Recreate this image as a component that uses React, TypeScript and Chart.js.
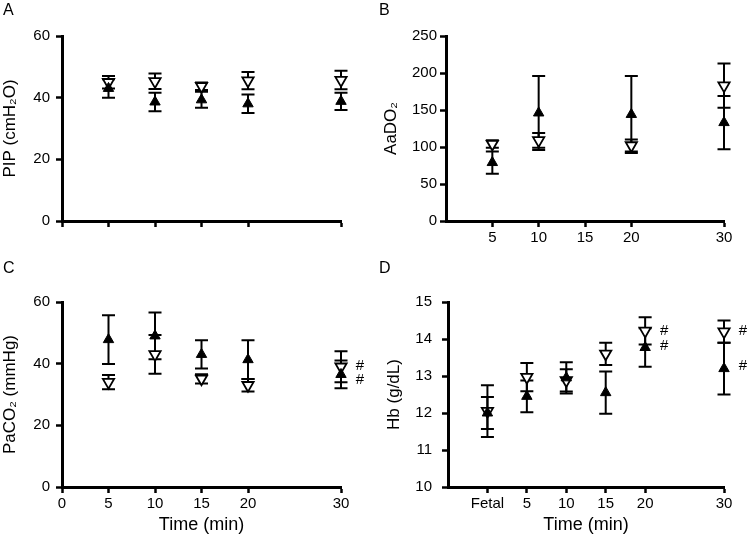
import React, { useEffect, useRef } from 'react';
import { Chart, registerables } from 'chart.js';
Chart.register(...registerables);

const FONT = "'Liberation Sans', Arial, Helvetica, sans-serif";

// Panel A: PIP (cmH2O)
const timesA = [5, 10, 15, 20, 30];
const pipFilled = [43, 38.6, 39.3, 38, 38.8];
const pipFilledSd = [3, 3, 2.6, 3, 2.8];
const pipOpen = [45, 45.3, 43.7, 45.5, 45.7];
const pipOpenSd = [2, 2.5, 1.2, 2.8, 3];

// Panel B: AaDO2
const timesB = [5, 10, 20, 30];
const aaFilled = [79, 146, 144, 133];
const aaFilledSd = [15, 50, 52, 36];
const aaOpen = [104, 109, 102, 183];
const aaOpenSd = [5, 10, 8, 30];

// Panel C: PaCO2 (mmHg)
const timesC = [5, 10, 15, 20, 30];
const coFilled = [47.8, 49, 43, 41.3, 36.5];
const coFilledSd = [7.9, 7.6, 4.6, 6.3, 4.5];
const coOpen = [34, 43, 35.1, 33, 39];
const coOpenSd = [2.3, 6.3, 1.5, 2, 5];
const hashCx = [30, 30];
const hashCy = [39.4, 34.6];

// Panel D: Hb (g/dL)
const timesD = [0, 5, 10, 15, 20, 30];
const hbFilled = [12.0, 12.45, 12.95, 12.55, 13.77, 13.2];
const hbFilledSd = [0.43, 0.43, 0.42, 0.57, 0.52, 0.7];
const hbOpen = [12.05, 12.97, 12.88, 13.6, 14.22, 14.2];
const hbOpenSd = [0.7, 0.38, 0.3, 0.3, 0.37, 0.3];
const hashDx = [20, 20, 30, 30];
const hashDy = [14.22, 13.82, 14.22, 13.28];

const ticksAC = [0, 5, 10, 15, 20, 30];
const ticksB = [5, 10, 15, 20, 30];
const ticksD = [0, 5, 10, 15, 20, 30];

type PanelProps = {
  xs: number[];
  filled: number[];
  filledSd: number[];
  open: number[];
  openSd: number[];
  xMin: number;
  xMax: number;
  xTicks: number[];
  xLabels: boolean;
  fetal?: boolean;
  yMin: number;
  yMax: number;
  yStep: number;
  yTitle: string;
  xTitle?: string;
  hashX?: number[];
  hashY?: number[];
  left: number;
  top: number;
  right: number;
  bottomH: number;
  yTitlePad: number;
  yTickPad: number;
};

function Panel(p: PanelProps) {
  const ref = useRef<HTMLCanvasElement | null>(null);
  useEffect(() => {
    if (!ref.current) return;
    const sets = [
      { vals: p.filled, sds: p.filledSd },
      { vals: p.open, sds: p.openSd },
    ];
    const errPlugin = {
      id: 'errbars',
      beforeDatasetsDraw(chart: any) {
        const ctx = chart.ctx;
        const xs = chart.scales.x;
        const ys = chart.scales.y;
        ctx.save();
        ctx.strokeStyle = '#000';
        ctx.lineWidth = 2;
        sets.forEach((s) => {
          s.vals.forEach((v, i) => {
            const px = xs.getPixelForValue(p.xs[i]);
            const yt = ys.getPixelForValue(v + s.sds[i]);
            const yb = ys.getPixelForValue(v - s.sds[i]);
            ctx.beginPath();
            ctx.moveTo(px, yt);
            ctx.lineTo(px, yb);
            ctx.moveTo(px - 6.5, yt);
            ctx.lineTo(px + 6.5, yt);
            ctx.moveTo(px - 6.5, yb);
            ctx.lineTo(px + 6.5, yb);
            ctx.stroke();
          });
        });
        ctx.restore();
      },
      afterDatasetsDraw(chart: any) {
        if (!p.hashX || !p.hashY) return;
        const ctx = chart.ctx;
        const xs = chart.scales.x;
        const ys = chart.scales.y;
        ctx.save();
        ctx.fillStyle = '#000';
        ctx.font = `15px ${FONT}`;
        ctx.textAlign = 'center';
        ctx.textBaseline = 'middle';
        p.hashX.forEach((hx, i) => {
          ctx.fillText('#', xs.getPixelForValue(hx) + 19, ys.getPixelForValue(p.hashY![i]));
        });
        ctx.restore();
      },
    };
    const chart = new Chart(ref.current, {
      type: 'scatter',
      data: {
        datasets: [
          {
            data: p.xs.map((x, i) => ({ x, y: p.filled[i] })),
            pointStyle: 'triangle',
            pointRadius: 6,
            pointRotation: 0,
            backgroundColor: '#000',
            borderColor: '#000',
            borderWidth: 1,
            clip: false,
          },
          {
            data: p.xs.map((x, i) => ({ x, y: p.open[i] })),
            pointStyle: 'triangle',
            pointRadius: 6.5,
            pointRotation: 180,
            backgroundColor: '#fff',
            borderColor: '#000',
            borderWidth: 1.8,
            clip: false,
          },
        ],
      },
      options: {
        responsive: false,
        animation: false,
        events: [],
        layout: { padding: { left: 0, top: p.top, right: p.right, bottom: 0 } },
        plugins: { legend: { display: false }, tooltip: { enabled: false } },
        scales: {
          x: {
            type: 'linear',
            min: p.xMin,
            max: p.xMax,
            afterBuildTicks: (s: any) => {
              s.ticks = p.xTicks.map((v) => ({ value: v }));
            },
            afterFit: (s: any) => {
              s.height = p.bottomH;
            },
            grid: { drawOnChartArea: false, drawTicks: true, tickLength: 6, tickWidth: 2.5, tickColor: '#000' },
            border: { display: true, color: '#000', width: 3 },
            ticks: {
              display: p.xLabels,
              color: '#000',
              padding: 2,
              maxRotation: 0,
              autoSkip: false,
              font: { family: FONT, size: 15 },
              callback: (v: any) => (p.fetal && Number(v) === 0 ? 'Fetal' : String(v)),
            },
            title: {
              display: !!p.xTitle,
              text: p.xTitle || '',
              color: '#000',
              font: { family: FONT, size: 18 },
              padding: { top: 0, bottom: 2 },
            },
          },
          y: {
            type: 'linear',
            min: p.yMin,
            max: p.yMax,
            afterFit: (s: any) => {
              s.width = p.left;
            },
            grid: { drawOnChartArea: false, drawTicks: true, tickLength: 6, tickWidth: 2.5, tickColor: '#000' },
            border: { display: true, color: '#000', width: 3 },
            ticks: {
              stepSize: p.yStep,
              color: '#000',
              padding: p.yTickPad,
              font: { family: FONT, size: 15 },
            },
            title: {
              display: true,
              text: p.yTitle,
              color: '#000',
              font: { family: FONT, size: 17 },
              padding: { top: p.yTitlePad, bottom: 0 },
            },
          },
        },
      },
      plugins: [errPlugin],
    } as any);
    return () => chart.destroy();
  }, []);
  return <canvas ref={ref} width={376} height={269} style={{ display: 'block', width: 376, height: 269 }} />;
}

const letterStyle = (left: number, top: number): React.CSSProperties => ({
  position: 'absolute',
  left,
  top,
  font: `16px ${FONT}`,
  color: '#000',
});

export default function App() {
  return (
    <div style={{ position: 'absolute', left: 0, top: 0, width: 752, height: 538, background: '#fff' }}>
      <div style={{ position: 'absolute', left: 0, top: 0 }}>
        <Panel xs={timesA} filled={pipFilled} filledSd={pipFilledSd} open={pipOpen} openSd={pipOpenSd}
          xMin={0} xMax={30} xTicks={ticksAC} xLabels={false}
          yMin={0} yMax={60} yStep={20} yTitle="PIP (cmH₂O)"
          left={62} top={36} right={35} bottomH={48} yTitlePad={0} yTickPad={6} />
      </div>
      <div style={{ position: 'absolute', left: 376, top: 0 }}>
        <Panel xs={timesB} filled={aaFilled} filledSd={aaFilledSd} open={aaOpen} openSd={aaOpenSd}
          xMin={0} xMax={30} xTicks={ticksB} xLabels={true}
          yMin={0} yMax={250} yStep={50} yTitle="AaDO₂"
          left={70} top={36} right={28} bottomH={48} yTitlePad={5} yTickPad={3} />
      </div>
      <div style={{ position: 'absolute', left: 0, top: 269 }}>
        <Panel xs={timesC} filled={coFilled} filledSd={coFilledSd} open={coOpen} openSd={coOpenSd}
          xMin={0} xMax={30} xTicks={ticksAC} xLabels={true} xTitle="Time (min)"
          yMin={0} yMax={60} yStep={20} yTitle="PaCO₂ (mmHg)" hashX={hashCx} hashY={hashCy}
          left={62} top={33} right={35} bottomH={51} yTitlePad={0} yTickPad={6} />
      </div>
      <div style={{ position: 'absolute', left: 376, top: 269 }}>
        <Panel xs={timesD} filled={hbFilled} filledSd={hbFilledSd} open={hbOpen} openSd={hbOpenSd}
          xMin={-5} xMax={30} xTicks={ticksD} xLabels={true} fetal={true} xTitle="Time (min)"
          yMin={10} yMax={15} yStep={1} yTitle="Hb (g/dL)" hashX={hashDx} hashY={hashDy}
          left={72} top={33} right={28} bottomH={51} yTitlePad={8} yTickPad={10} />
      </div>
      <div style={letterStyle(3, 1)}>A</div>
      <div style={letterStyle(379, 1)}>B</div>
      <div style={letterStyle(3, 259)}>C</div>
      <div style={letterStyle(379, 259)}>D</div>
    </div>
  );
}
